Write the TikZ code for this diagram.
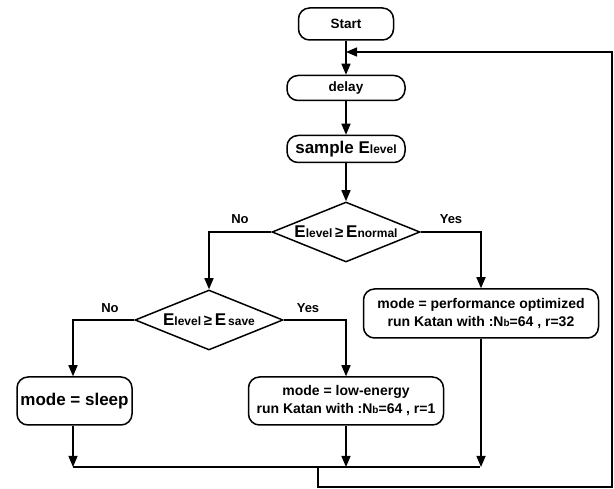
\documentclass[tikz,border=0pt]{standalone}
\usepackage{fontspec}
\setmainfont{Liberation Sans}
\usetikzlibrary{shapes.geometric,arrows.meta}
% E with a small subscript-like word set on the baseline
\newcommand{\Ewith}[1]{{\fontsize{17}{20}\selectfont E}{\fontsize{12}{14}\selectfont #1}}
\newcommand{\Nb}{N{\fontsize{10}{12}\selectfont b}}

\begin{document}
\begin{tikzpicture}[x=1pt,y=-1pt,line width=1.5pt,font=\bfseries,
  box/.style={draw,rounded corners=11pt,align=center,inner sep=0pt},
  decision/.style={draw,diamond,aspect=2.47,inner sep=0pt,minimum width=148pt,minimum height=60pt},
  flow/.style={-{Triangle[length=11pt,width=9pt]}},
  lbl/.style={font=\bfseries\fontsize{13}{15}\selectfont}]
\useasboundingbox (0,0) rectangle (614,489);

% process boxes
\node[box,minimum width=95pt,minimum height=32pt,font=\bfseries\fontsize{13.5}{16}\selectfont] (start) at (346,24) {Start};
\node[box,minimum width=118pt,minimum height=25pt,font=\bfseries\fontsize{13.5}{16}\selectfont] (delay) at (346,88) {delay};
\node[box,minimum width=118pt,minimum height=27pt,font=\bfseries\fontsize{17}{20}\selectfont] (sample) at (346,149) {sample \Ewith{level}};

% decisions
\node[decision] (d1) at (346,232) {\Ewith{level} {\fontsize{15}{18}\selectfont ≥} \Ewith{normal}};
\node[decision] (d2) at (209,320) {\Ewith{level} {\fontsize{15}{18}\selectfont ≥} \Ewith{\,save}};

% outcome boxes
\node[box,minimum width=235pt,minimum height=49pt,font=\bfseries\fontsize{14}{18}\selectfont] (perf) at (481,313.5)
  {mode = performance optimized\\run Katan with :\Nb=64 , r=32};
\node[box,minimum width=115pt,minimum height=48pt,font=\bfseries\fontsize{17}{20}\selectfont] (sleep) at (74.5,401) {mode = sleep};
\node[box,minimum width=195pt,minimum height=48pt,font=\bfseries\fontsize{14}{18}\selectfont] (low) at (346,401)
  {mode = low-energy\\run Katan with :\Nb=64 , r=1};

% branch labels
\node[lbl] (no1) at (240,219) {No};
\node[lbl] (yes1) at (451,219) {Yes};
\node[lbl] (no2) at (110,308) {No};
\node[lbl] (yes2) at (308,308) {Yes};

% junction points
\coordinate (mL) at (73,467);
\coordinate (mR) at (480,467);
\coordinate (mJ) at (318,467);
\coordinate (back) at (346,52);

% main column
\draw[flow] (start.south) -- (delay.north);
\draw[flow] (delay.south) -- (sample.north);
\draw[flow] (sample.south) -- (d1.north);

% branches
\draw[flow] (d1.west) -| (d2.north);
\draw[flow] (d1.east) -| (perf.north);
\draw[flow] (d2.west) -| (73,0 |- sleep.north);
\draw[flow] (d2.east) -| (low.north);

% merge
\draw[flow] (73,0 |- sleep.south) -- (mL);
\draw[flow] (low.south) -- (low.south |- mL);
\draw[flow] (perf.south) -- (perf.south |- mL);
\draw (mL) -- (mR);

% loop back to delay
\draw[flow] (mJ) -- ++(0,20) -| (612,52) -- (back);
\end{tikzpicture}
\end{document}
